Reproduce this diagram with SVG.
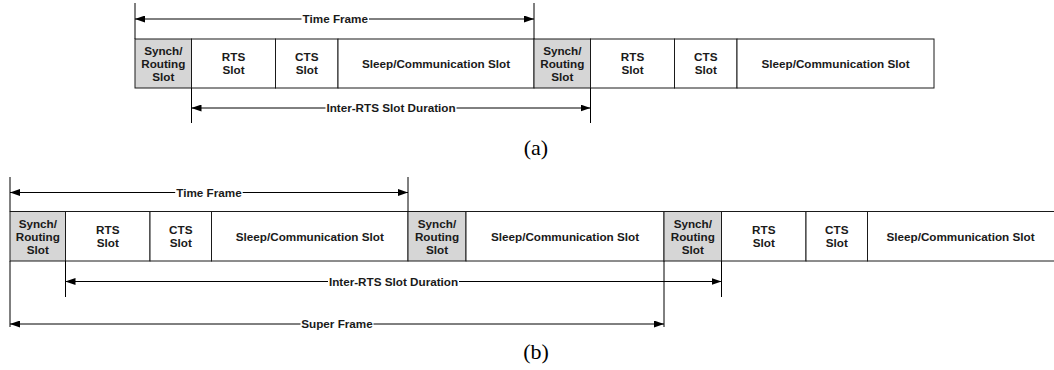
<svg xmlns="http://www.w3.org/2000/svg" width="1054" height="370" viewBox="0 0 1054 370">
  <style>
    .slot { fill: #ffffff; stroke: #1a1a1a; stroke-width: 1; }
    .sync { fill: #d6d6d6; stroke: #1a1a1a; stroke-width: 1; }
    .lbl { font-family: "Liberation Sans", Arial, sans-serif; font-weight: bold; font-size: 11.7px; fill: #1a1a1a; text-anchor: middle; }
    .dim { stroke: #000000; stroke-width: 1; fill: none; }
    .tick { stroke: #000000; stroke-width: 1; fill: none; }
    .gap { fill: #ffffff; }
    .cap { font-family: "Liberation Serif", "Times New Roman", serif; font-size: 22px; fill: #000000; text-anchor: middle; }
  </style>
  <defs>
    <marker id="ah" viewBox="0 0 10 7" refX="10" refY="3.5" markerWidth="10" markerHeight="7" markerUnits="userSpaceOnUse" orient="auto-start-reverse">
      <path d="M0,0 L10,3.5 L0,7 Z" fill="#000000"/>
    </marker>
  </defs>

  <rect width="1054" height="370" fill="#ffffff"/>

  <!-- (a) frame layout -->
  <g id="a-sync1"><rect class="sync" x="135" y="39" width="56.5" height="49"/>
    <text class="lbl" x="163.3" y="55">Synch/</text><text class="lbl" x="163.3" y="68">Routing</text><text class="lbl" x="163.3" y="81">Slot</text></g>
  <g id="a-rts1"><rect class="slot" x="191.5" y="39" width="84" height="49"/>
    <text class="lbl" x="233.5" y="61">RTS</text><text class="lbl" x="233.5" y="74">Slot</text></g>
  <g id="a-cts1"><rect class="slot" x="275.5" y="39" width="62.5" height="49"/>
    <text class="lbl" x="306.8" y="61">CTS</text><text class="lbl" x="306.8" y="74">Slot</text></g>
  <g id="a-sleep1"><rect class="slot" x="338" y="39" width="196" height="49"/>
    <text class="lbl" x="436" y="68">Sleep/Communication Slot</text></g>
  <g id="a-sync2"><rect class="sync" x="534" y="39" width="56.5" height="49"/>
    <text class="lbl" x="562.3" y="55">Synch/</text><text class="lbl" x="562.3" y="68">Routing</text><text class="lbl" x="562.3" y="81">Slot</text></g>
  <g id="a-rts2"><rect class="slot" x="590.5" y="39" width="84" height="49"/>
    <text class="lbl" x="632.5" y="61">RTS</text><text class="lbl" x="632.5" y="74">Slot</text></g>
  <g id="a-cts2"><rect class="slot" x="674.5" y="39" width="62.5" height="49"/>
    <text class="lbl" x="705.8" y="61">CTS</text><text class="lbl" x="705.8" y="74">Slot</text></g>
  <g id="a-sleep2"><rect class="slot" x="737" y="39" width="197" height="49"/>
    <text class="lbl" x="835.5" y="68">Sleep/Communication Slot</text></g>

  <!-- (b) frame layout -->
  <g id="b-sync1"><rect class="sync" x="10" y="211.5" width="55.5" height="49.5"/>
    <text class="lbl" x="37.8" y="227.5">Synch/</text><text class="lbl" x="37.8" y="240.5">Routing</text><text class="lbl" x="37.8" y="253.5">Slot</text></g>
  <g id="b-rts1"><rect class="slot" x="65.5" y="211.5" width="84.5" height="49.5"/>
    <text class="lbl" x="107.8" y="233.5">RTS</text><text class="lbl" x="107.8" y="246.5">Slot</text></g>
  <g id="b-cts1"><rect class="slot" x="150" y="211.5" width="61.5" height="49.5"/>
    <text class="lbl" x="180.8" y="233.5">CTS</text><text class="lbl" x="180.8" y="246.5">Slot</text></g>
  <g id="b-sleep1"><rect class="slot" x="211.5" y="211.5" width="196.5" height="49.5"/>
    <text class="lbl" x="309.8" y="240.5">Sleep/Communication Slot</text></g>
  <g id="b-sync2"><rect class="sync" x="408" y="211.5" width="58" height="49.5"/>
    <text class="lbl" x="437" y="227.5">Synch/</text><text class="lbl" x="437" y="240.5">Routing</text><text class="lbl" x="437" y="253.5">Slot</text></g>
  <g id="b-sleep2"><rect class="slot" x="466" y="211.5" width="198" height="49.5"/>
    <text class="lbl" x="565" y="240.5">Sleep/Communication Slot</text></g>
  <g id="b-sync3"><rect class="sync" x="664" y="211.5" width="57.5" height="49.5"/>
    <text class="lbl" x="692.8" y="227.5">Synch/</text><text class="lbl" x="692.8" y="240.5">Routing</text><text class="lbl" x="692.8" y="253.5">Slot</text></g>
  <g id="b-rts2"><rect class="slot" x="721.5" y="211.5" width="84.5" height="49.5"/>
    <text class="lbl" x="763.8" y="233.5">RTS</text><text class="lbl" x="763.8" y="246.5">Slot</text></g>
  <g id="b-cts2"><rect class="slot" x="806" y="211.5" width="61.5" height="49.5"/>
    <text class="lbl" x="836.8" y="233.5">CTS</text><text class="lbl" x="836.8" y="246.5">Slot</text></g>
  <g id="b-sleep3"><rect class="slot" x="867.5" y="211.5" width="190" height="49.5"/>
    <text class="lbl" x="960.5" y="240.5">Sleep/Communication Slot</text></g>

  <!-- dimension lines with extension ticks -->
  <g id="connectors">
    <!-- (a) time frame -->
    <line class="tick" x1="135" y1="3" x2="135" y2="39"/>
    <line class="tick" x1="534" y1="3" x2="534" y2="39"/>
    <line class="dim" x1="135" y1="19" x2="534" y2="19" marker-start="url(#ah)" marker-end="url(#ah)"/>
    <rect class="gap" x="301.5" y="12" width="67.5" height="14"/>
    <text class="lbl" x="335.3" y="23">Time Frame</text>

    <!-- (a) inter-RTS slot duration -->
    <line class="tick" x1="191.5" y1="88" x2="191.5" y2="123"/>
    <line class="tick" x1="590.5" y1="88" x2="590.5" y2="123"/>
    <line class="dim" x1="191.5" y1="108" x2="590.5" y2="108" marker-start="url(#ah)" marker-end="url(#ah)"/>
    <rect class="gap" x="325.5" y="101" width="131" height="14"/>
    <text class="lbl" x="391" y="112">Inter-RTS Slot Duration</text>

    <!-- (b) time frame -->
    <line class="tick" x1="10" y1="177" x2="10" y2="211.5"/>
    <line class="tick" x1="408" y1="177" x2="408" y2="211.5"/>
    <line class="dim" x1="10" y1="192.5" x2="408" y2="192.5" marker-start="url(#ah)" marker-end="url(#ah)"/>
    <rect class="gap" x="175.2" y="185.5" width="67.5" height="14"/>
    <text class="lbl" x="209" y="196.5">Time Frame</text>

    <!-- (b) inter-RTS slot duration -->
    <line class="tick" x1="65.5" y1="261" x2="65.5" y2="297"/>
    <line class="tick" x1="721.5" y1="261" x2="721.5" y2="297"/>
    <line class="dim" x1="65.5" y1="281.5" x2="721.5" y2="281.5" marker-start="url(#ah)" marker-end="url(#ah)"/>
    <rect class="gap" x="328" y="274.5" width="131" height="14"/>
    <text class="lbl" x="393.5" y="285.5">Inter-RTS Slot Duration</text>

    <!-- (b) super frame -->
    <line class="tick" x1="10" y1="261" x2="10" y2="327"/>
    <line class="tick" x1="664" y1="261" x2="664" y2="327"/>
    <line class="dim" x1="10" y1="324" x2="664" y2="324" marker-start="url(#ah)" marker-end="url(#ah)"/>
    <rect class="gap" x="300.5" y="317" width="73" height="14"/>
    <text class="lbl" x="337" y="328">Super Frame</text>
  </g>

  <!-- captions -->
  <text class="cap" x="536" y="155">(a)</text>
  <text class="cap" x="536" y="358.5">(b)</text>
</svg>
